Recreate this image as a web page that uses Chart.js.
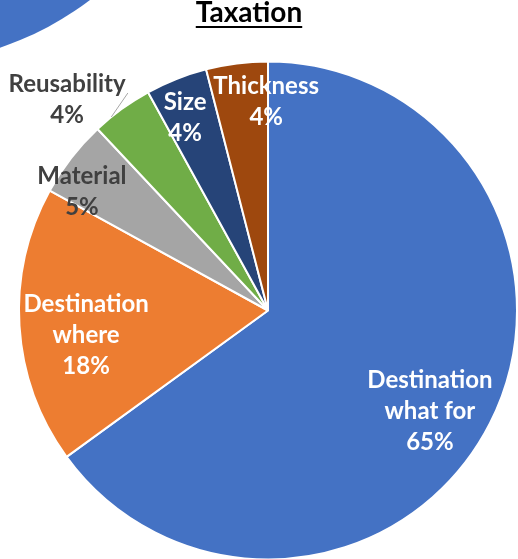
<!DOCTYPE html>
<html>
<head>
<meta charset="utf-8">
<script src="https://cdn.jsdelivr.net/npm/chart.js@4.4.1/dist/chart.umd.min.js"></script>
<style>
  html, body {
    margin: 0;
    padding: 0;
    width: 518px;
    height: 559px;
    overflow: hidden;
    background: #ffffff;
    position: relative;
  }
  /* corner of the neighbouring chart that peeks in at the top left */
  .corner-pie {
    position: absolute;
    left: -414px;
    top: -564px;
    width: 628px;
    height: 628px;
    border-radius: 50%;
    background: #4472c4;
  }
  .title {
    position: absolute;
    left: 0;
    top: -3px;
    width: 498px;
    text-align: center;
    font-family: Lato, "Open Sans", sans-serif;
    font-weight: 700;
    font-size: 28px;
    line-height: 28px;
    color: #000000;
    text-decoration: underline;
    text-decoration-thickness: 2px;
    text-underline-offset: 4px;
  }
  #taxChart {
    position: absolute;
    left: 0;
    top: 0;
  }
</style>
</head>
<body>
<div class="corner-pie"></div>
<canvas id="taxChart" width="518" height="561"></canvas>
<div class="title">Taxation</div>

<script>
// Pie data, clockwise from 12 o'clock
const categories = [
  ["Destination", "what for"],
  ["Destination", "where"],
  ["Material"],
  ["Reusability"],
  ["Size"],
  ["Thickness"],
];
const shares = [65, 18, 5, 4, 4, 4];

const sliceColors = ["#4472c4", "#ed7d31", "#a5a5a5", "#70ad47", "#264478", "#9e480e"];
const labelColors = ["#ffffff", "#ffffff", "#404040", "#404040", "#ffffff", "#ffffff"];

// where each label sits: fraction of the radius and angle nudge (degrees) off the slice middle
const labelPlace = [
  { r: 0.765, da: 4.8 },
  { r: 0.737, da: -4.0 },
  { r: 0.889, da: -5.0 },
  { r: 1.172, da: -7.5 },
  { r: 0.845, da: -1.6 },
  { r: 0.841, da: 6.7 },
];

const LINE_GAP = 31;
const LABEL_FONT = "bold 24px Lato, 'Open Sans', sans-serif";

// draws "name / nn%" labels and the leader line for the small outside one
const pieLabels = {
  id: "pieLabels",
  afterDatasetsDraw(chart) {
    const ctx = chart.ctx;
    const arcs = chart.getDatasetMeta(0).data;
    ctx.save();
    ctx.font = LABEL_FONT;
    ctx.textAlign = "center";
    ctx.textBaseline = "alphabetic";

    arcs.forEach((arc, i) => {
      const { x, y, startAngle, endAngle, outerRadius } = arc.getProps(
        ["x", "y", "startAngle", "endAngle", "outerRadius"], true);
      const mid = (startAngle + endAngle) / 2;
      const place = labelPlace[i];
      const a = mid + place.da * Math.PI / 180;
      const cx = x + Math.cos(a) * outerRadius * place.r;
      const cy = y + Math.sin(a) * outerRadius * place.r;

      const lines = categories[i].concat([shares[i] + "%"]);
      const top = cy - (lines.length - 1) * LINE_GAP / 2;
      ctx.fillStyle = labelColors[i];
      lines.forEach((txt, k) => {
        ctx.fillText(txt, cx, top + k * LINE_GAP + 8.5);
      });

      // leader line from the slice edge out to the label
      if (place.r > 1) {
        const a1 = mid - 3 * Math.PI / 180;
        const a2 = mid + 3.2 * Math.PI / 180;
        ctx.beginPath();
        ctx.moveTo(x + Math.cos(a1) * outerRadius, y + Math.sin(a1) * outerRadius);
        ctx.lineTo(x + Math.cos(a2) * outerRadius * 1.039, y + Math.sin(a2) * outerRadius * 1.039);
        ctx.strokeStyle = "#a6a6a6";
        ctx.lineWidth = 1;
        ctx.stroke();
      }
    });
    ctx.restore();
  },
};

const ctx = document.getElementById("taxChart").getContext("2d");
const chart = new Chart(ctx, {
  type: "pie",
  data: {
    labels: categories.map((c) => c.join(" ")),
    datasets: [
      {
        data: shares,
        backgroundColor: sliceColors,
        borderColor: "#ffffff",
        borderWidth: 2,
      },
    ],
  },
  options: {
    responsive: false,
    animation: false,
    layout: {
      padding: { top: 60, left: 18, right: 0, bottom: 0 },
    },
    plugins: {
      legend: { display: false },
      tooltip: { enabled: false },
    },
  },
  plugins: [pieLabels],
});
</script>
</body>
</html>
